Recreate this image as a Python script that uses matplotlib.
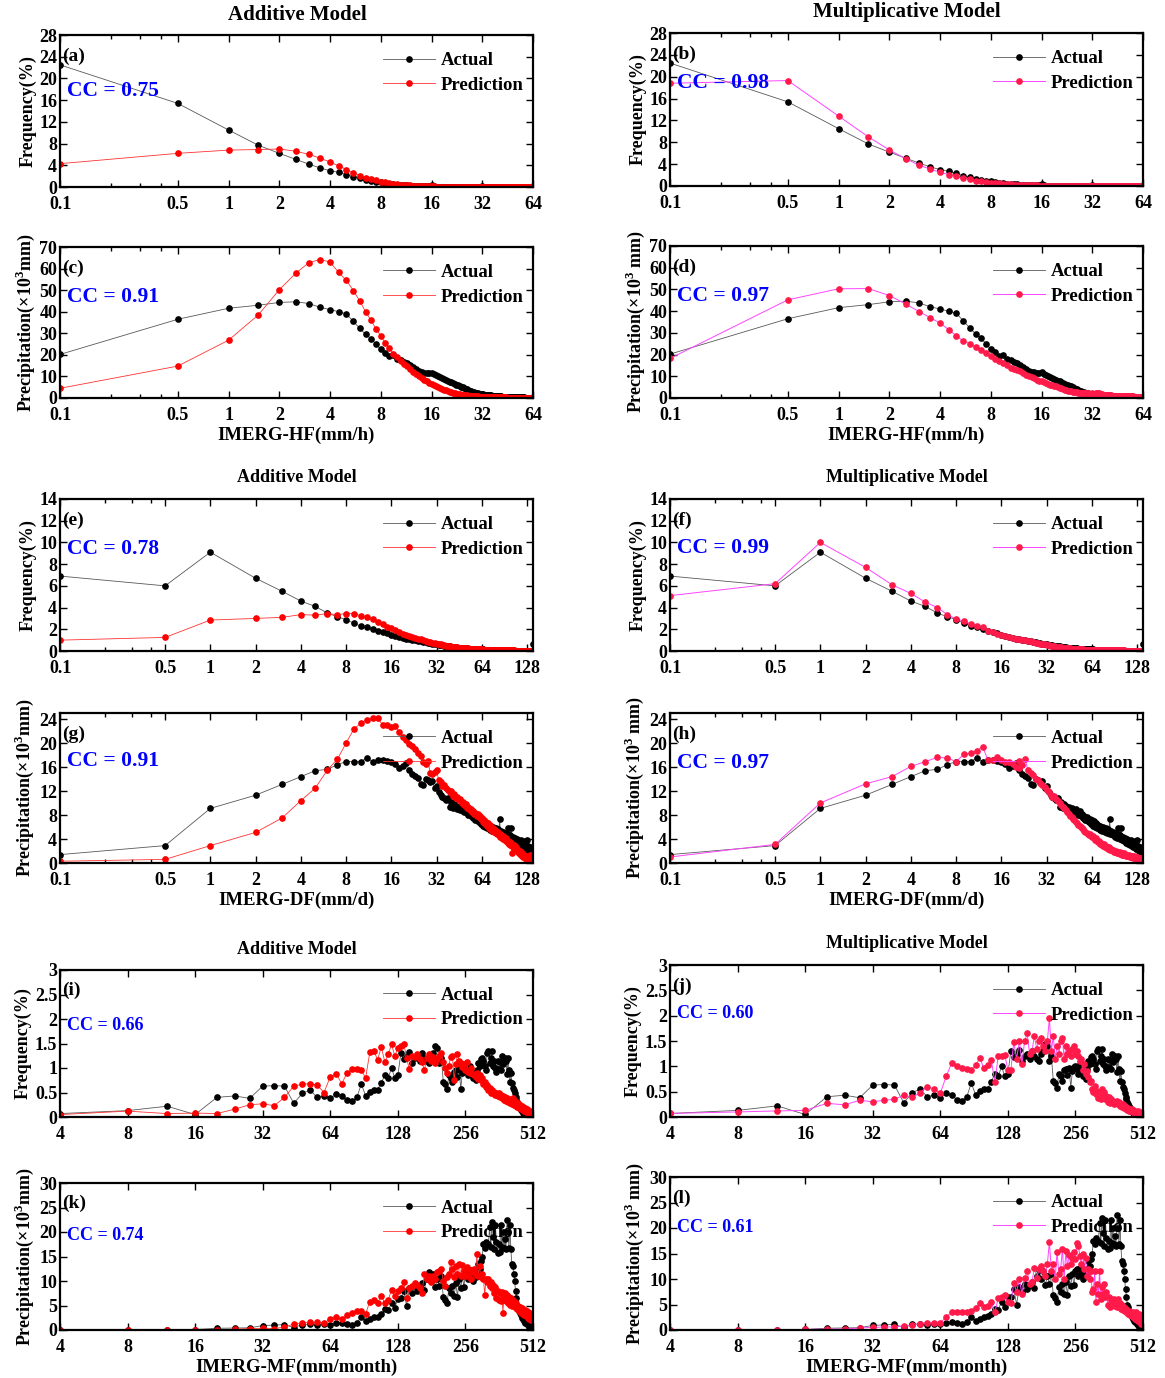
import numpy as np
import matplotlib
matplotlib.use('Agg')
import matplotlib.pyplot as plt
from matplotlib.ticker import FixedLocator, NullFormatter, NullLocator

plt.rcParams['font.family'] = 'Liberation Serif'
plt.rcParams['font.weight'] = 'bold'
plt.rcParams['axes.labelweight'] = 'bold'
plt.rcParams['mathtext.fontset'] = 'custom'
plt.rcParams['mathtext.rm'] = 'Liberation Serif:bold'
plt.rcParams['mathtext.bf'] = 'Liberation Serif:bold'

# ---- bins ----
hourly_x = [0.1] + list(np.arange(0.5, 64.01, 0.5))
daily_x = [0.1, 0.5] + list(range(1, 141))
monthly_x = list(range(4, 513, 4))

# ---- hourly frequency (%) ----
h_freq_act = [22.5,
    15.4, 10.5, 7.7, 6.2, 5.1, 4.2, 3.5, 3.0, 2.7, 2.3, 1.9, 1.6, 1.35, 1.15, 0.95, 0.85,
    0.7, 0.6, 0.52, 0.45, 0.4, 0.35, 0.3, 0.27, 0.24, 0.21, 0.19, 0.17, 0.15, 0.13, 0.12, 0.45,
    0.1, 0.09, 0.08, 0.08, 0.07, 0.06, 0.06, 0.05, 0.05, 0.05, 0.04, 0.04, 0.04, 0.03, 0.03, 0.08,
    0.03, 0.03, 0.03, 0.02, 0.02, 0.02, 0.02, 0.02, 0.02, 0.02, 0.02, 0.02, 0.01, 0.01, 0.01, 0.15,
    0.01, 0.01, 0.01, 0.01, 0.01, 0.01, 0.01, 0.01, 0.01, 0.01, 0.01, 0.01, 0.01, 0.01, 0.01, 0.03,
    0.01, 0.01, 0.01, 0.01, 0.01, 0.01, 0.01, 0.01, 0.01, 0.01, 0.01, 0.01, 0.01, 0.01, 0.01, 0.02,
    0.01, 0.01, 0.01, 0.01, 0.01, 0.01, 0.01, 0.01, 0.01, 0.01, 0.01, 0.01, 0.01, 0.01, 0.01, 0.02,
    0.01, 0.01, 0.01, 0.01, 0.01, 0.01, 0.01, 0.01, 0.01, 0.01, 0.01, 0.01, 0.01, 0.01, 0.01, 0.15]
h_freq_add = [4.3,
    6.2, 6.8, 6.9, 7.0, 6.6, 6.0, 5.3, 4.6, 3.9, 3.2, 2.6, 2.1, 1.75, 1.45, 1.2, 1.0,
    0.85, 0.72, 0.62, 0.53, 0.46, 0.4, 0.35, 0.3, 0.26, 0.23, 0.2, 0.18, 0.16, 0.14, 0.12, 0.11,
    0.1, 0.09, 0.08, 0.07, 0.06, 0.06, 0.05, 0.05, 0.04, 0.04, 0.04, 0.03, 0.03, 0.03, 0.03, 0.02,
    0.02, 0.02, 0.02, 0.02, 0.02, 0.02, 0.02, 0.02, 0.02, 0.02, 0.02, 0.02, 0.02, 0.02, 0.02, 0.02,
    0.02, 0.02, 0.02, 0.02, 0.01, 0.01, 0.01, 0.01, 0.01, 0.01, 0.01, 0.01, 0.01, 0.01, 0.01, 0.01,
    0.01, 0.01, 0.01, 0.01, 0.01, 0.01, 0.01, 0.01, 0.01, 0.01, 0.01, 0.01, 0.01, 0.01, 0.01, 0.01,
    0.01, 0.01, 0.01, 0.01, 0.01, 0.01, 0.01, 0.01, 0.01, 0.01, 0.01, 0.01, 0.01, 0.01, 0.01, 0.01,
    0.01, 0.01, 0.01, 0.01, 0.01, 0.01, 0.01, 0.01, 0.01, 0.01, 0.01, 0.01, 0.01, 0.01, 0.01, 0.05]
h_freq_mul = [18.8,
    19.3, 12.8, 9.0, 6.6, 5.0, 3.8, 3.1, 2.5, 2.1, 1.75, 1.45, 1.2, 1.0, 0.85, 0.72, 0.62,
    0.53, 0.46, 0.4, 0.35, 0.3, 0.26, 0.23, 0.2, 0.18, 0.16, 0.14, 0.12, 0.11, 0.1, 0.09, 0.08,
    0.07, 0.07, 0.06, 0.06, 0.05, 0.05, 0.05, 0.04, 0.04, 0.04, 0.04, 0.03, 0.03, 0.03, 0.03, 0.03,
    0.03, 0.02, 0.02, 0.02, 0.02, 0.02, 0.02, 0.02, 0.02, 0.02, 0.02, 0.02, 0.02, 0.02, 0.02, 0.02,
    0.02, 0.02, 0.02, 0.02, 0.02, 0.02, 0.01, 0.01, 0.01, 0.01, 0.01, 0.01, 0.01, 0.01, 0.01, 0.01,
    0.01, 0.01, 0.01, 0.01, 0.01, 0.01, 0.01, 0.01, 0.01, 0.01, 0.01, 0.01, 0.01, 0.01, 0.01, 0.01,
    0.01, 0.01, 0.01, 0.01, 0.01, 0.01, 0.01, 0.01, 0.01, 0.01, 0.01, 0.01, 0.01, 0.01, 0.01, 0.01,
    0.01, 0.01, 0.01, 0.01, 0.01, 0.01, 0.01, 0.01, 0.01, 0.01, 0.01, 0.01, 0.01, 0.01, 0.01, 0.03]

# ---- hourly precipitation (x10^3 mm) ----
h_prec_act = [20.2,
    36.5, 41.6, 43.0, 44.3, 44.6, 43.8, 42.0, 41.0, 40.0, 39.0, 35.5, 32.3, 29.5, 27.5, 25.0, 22.5,
    21.0, 19.5, 19.8, 18.0, 17.5, 16.8, 16.0, 15.2, 14.5, 13.5, 12.5, 12.0, 11.8, 11.5, 11.5, 11.8,
    11.0, 10.6, 10.2, 9.8, 9.3, 8.9, 8.5, 8.0, 7.6, 7.2, 6.9, 6.6, 6.2, 5.9, 5.5, 5.3,
    5.0, 4.6, 4.3, 4.0, 3.7, 3.4, 3.1, 2.9, 2.7, 2.5, 2.3, 2.2, 2.0, 1.9, 1.8, 2.0,
    1.7, 1.6, 1.5, 1.45, 1.4, 1.3, 1.25, 1.2, 1.15, 1.1, 1.0, 0.95, 0.9, 0.85, 0.8, 0.85,
    0.75, 0.72, 0.7, 0.68, 0.65, 0.62, 0.6, 0.58, 0.55, 0.52, 0.5, 0.48, 0.46, 0.44, 0.42, 0.45,
    0.4, 0.38, 0.37, 0.36, 0.35, 0.34, 0.33, 0.32, 0.31, 0.3, 0.29, 0.28, 0.27, 0.26, 0.25, 0.27,
    0.24, 0.23, 0.22, 0.21, 0.2, 0.2, 0.19, 0.18, 0.17, 0.17, 0.16, 0.15, 0.15, 0.14, 0.13, 0.4]
h_prec_add = [4.5,
    14.8, 26.8, 38.5, 50.2, 57.8, 62.8, 64.2, 63.0, 58.2, 54.5, 49.8, 45.0, 40.0, 36.0, 32.0, 28.8,
    25.5, 23.0, 20.5, 19.0, 17.0, 15.8, 14.8, 13.5, 12.0, 11.0, 10.0, 9.2, 8.5, 7.8, 7.0, 6.5,
    6.0, 5.5, 5.0, 4.6, 4.2, 3.8, 3.5, 3.2, 2.9, 2.6, 2.4, 2.2, 2.0, 1.8, 1.7, 1.6,
    1.5, 1.4, 1.3, 1.2, 1.1, 1.0, 0.95, 0.9, 0.85, 0.8, 0.75, 0.7, 0.65, 0.6, 0.55, 0.5,
    0.48, 0.46, 0.44, 0.42, 0.4, 0.39, 0.38, 0.37, 0.36, 0.35, 0.34, 0.33, 0.32, 0.31, 0.3, 0.3,
    0.29, 0.28, 0.28, 0.27, 0.26, 0.26, 0.25, 0.24, 0.24, 0.23, 0.22, 0.22, 0.21, 0.21, 0.2, 0.2,
    0.19, 0.19, 0.18, 0.18, 0.17, 0.17, 0.16, 0.16, 0.15, 0.15, 0.14, 0.14, 0.13, 0.13, 0.12, 0.12,
    0.11, 0.11, 0.1, 0.1, 0.09, 0.09, 0.08, 0.08, 0.07, 0.07, 0.06, 0.06, 0.06, 0.05, 0.05, 0.05]
h_prec_mul = [18.2,
    45.2, 50.3, 50.4, 47.2, 43.3, 39.8, 37.0, 34.5, 31.5, 28.6, 26.2, 25.0, 23.5, 22.0, 20.5, 19.2,
    18.0, 17.0, 16.0, 15.2, 14.0, 13.5, 13.0, 12.3, 11.5, 10.8, 10.2, 9.6, 9.0, 8.5, 8.0, 7.6,
    7.2, 6.8, 6.5, 6.2, 5.9, 5.6, 5.3, 5.0, 4.7, 4.4, 4.1, 3.9, 3.6, 3.4, 3.2, 3.0,
    2.9, 2.8, 2.7, 2.6, 2.5, 2.4, 2.3, 2.3, 2.2, 2.2, 2.1, 2.1, 2.0, 2.0, 2.0, 2.1,
    2.0, 2.0, 2.1, 2.2, 2.3, 2.2, 2.0, 1.8, 1.7, 1.6, 1.5, 1.5, 1.4, 1.4, 1.3, 1.3,
    1.25, 1.2, 1.2, 1.15, 1.15, 1.1, 1.1, 1.05, 1.05, 1.0, 1.0, 1.0, 0.95, 0.95, 0.9, 0.9,
    0.9, 0.88, 0.86, 0.85, 0.84, 0.82, 0.8, 0.8, 0.78, 0.76, 0.75, 0.74, 0.72, 0.7, 0.7, 0.68,
    0.66, 0.65, 0.64, 0.62, 0.6, 0.6, 0.58, 0.56, 0.55, 0.54, 0.52, 0.5, 0.5, 0.48, 0.46, 0.5]

# ---- daily frequency (%) ----
d_freq_act = [6.9, 6.0,
    9.1, 6.7, 5.5, 4.6, 4.1, 3.5, 3.15, 2.9, 2.55, 2.3, 2.2, 2.0, 1.85, 1.75, 1.65, 1.5, 1.4, 1.3, 1.2, 1.15,
    1.1, 1.05, 1.0, 0.95, 0.9, 0.85, 0.8, 0.75, 0.72, 0.68, 0.65, 0.62, 0.58, 0.55, 0.52, 0.5, 0.47, 0.45, 0.42, 0.4,
    0.38, 0.36, 0.34, 0.32, 0.3, 0.29, 0.28, 0.27, 0.26, 0.25, 0.24, 0.23, 0.22, 0.21, 0.2, 0.19, 0.18, 0.18, 0.17, 0.16,
    0.16, 0.15, 0.15, 0.14, 0.14, 0.13, 0.13, 0.12, 0.12, 0.11, 0.11, 0.1, 0.1, 0.1, 0.09, 0.09, 0.09, 0.08, 0.08, 0.08,
    0.08, 0.07, 0.07, 0.07, 0.07, 0.07, 0.06, 0.06, 0.06, 0.06, 0.06, 0.06, 0.06, 0.05, 0.05, 0.05, 0.05, 0.05, 0.05, 0.05,
    0.05, 0.05, 0.04, 0.04, 0.04, 0.04, 0.04, 0.04, 0.04, 0.04, 0.04, 0.04, 0.03, 0.03, 0.03, 0.03, 0.03, 0.03, 0.03, 0.03,
    0.03, 0.03, 0.03, 0.03, 0.03, 0.03, 0.03, 0.03, 0.03, 0.03, 0.03, 0.03, 0.03, 0.03, 0.03, 0.03, 0.03, 0.03, 0.03, 0.6]
d_freq_add = [1.0, 1.25,
    2.85, 3.0, 3.1, 3.35, 3.3, 3.45, 3.35, 3.45, 3.45, 3.25, 3.1, 2.95, 2.7, 2.45, 2.25, 2.1, 1.95, 1.75, 1.6, 1.5,
    1.4, 1.3, 1.22, 1.15, 1.08, 1.0, 0.93, 0.87, 0.82, 0.77, 0.72, 0.68, 0.64, 0.6, 0.56, 0.53, 0.5, 0.47, 0.44, 0.41,
    0.39, 0.37, 0.35, 0.33, 0.31, 0.3, 0.29, 0.28, 0.27, 0.26, 0.25, 0.24, 0.23, 0.22, 0.21, 0.2, 0.19, 0.18, 0.17, 0.16,
    0.15, 0.15, 0.14, 0.14, 0.13, 0.13, 0.12, 0.12, 0.11, 0.11, 0.1, 0.1, 0.1, 0.09, 0.09, 0.09, 0.08, 0.08, 0.08, 0.08,
    0.07, 0.07, 0.07, 0.07, 0.07, 0.06, 0.06, 0.06, 0.06, 0.06, 0.06, 0.06, 0.06, 0.05, 0.05, 0.05, 0.05, 0.05, 0.05, 0.05,
    0.05, 0.05, 0.05, 0.05, 0.05, 0.04, 0.04, 0.04, 0.04, 0.04, 0.04, 0.04, 0.04, 0.04, 0.04, 0.03, 0.03, 0.03, 0.03, 0.03,
    0.03, 0.03, 0.03, 0.03, 0.03, 0.03, 0.03, 0.03, 0.03, 0.03, 0.02, 0.02, 0.02, 0.02, 0.02, 0.02, 0.02, 0.02, 0.02, 0.02]
d_freq_mul = [5.1, 6.2,
    10.0, 7.7, 6.1, 5.3, 4.5, 4.0, 3.35, 2.95, 2.75, 2.5, 2.3, 2.2, 1.85, 1.75, 1.6, 1.5, 1.4, 1.3, 1.2, 1.15,
    1.1, 1.05, 1.0, 0.93, 0.88, 0.82, 0.77, 0.72, 0.68, 0.64, 0.6, 0.56, 0.52, 0.49, 0.46, 0.43, 0.4, 0.38, 0.36, 0.34,
    0.32, 0.3, 0.28, 0.27, 0.25, 0.24, 0.23, 0.21, 0.2, 0.19, 0.18, 0.17, 0.16, 0.15, 0.14, 0.14, 0.13, 0.12, 0.12, 0.11,
    0.11, 0.1, 0.1, 0.1, 0.09, 0.09, 0.09, 0.08, 0.08, 0.08, 0.08, 0.07, 0.07, 0.07, 0.07, 0.07, 0.06, 0.06, 0.06, 0.06,
    0.06, 0.06, 0.06, 0.06, 0.06, 0.05, 0.05, 0.05, 0.05, 0.05, 0.05, 0.05, 0.05, 0.05, 0.05, 0.05, 0.05, 0.05, 0.05, 0.05,
    0.05, 0.05, 0.05, 0.05, 0.05, 0.04, 0.04, 0.04, 0.04, 0.04, 0.04, 0.04, 0.04, 0.04, 0.04, 0.04, 0.04, 0.04, 0.04, 0.04,
    0.04, 0.04, 0.04, 0.04, 0.04, 0.03, 0.03, 0.03, 0.03, 0.03, 0.03, 0.03, 0.03, 0.03, 0.03, 0.03, 0.03, 0.03, 0.03, 0.03]

# ---- daily precipitation (x10^3 mm) ----
d_prec_act = [1.4, 2.9,
    9.1, 11.3, 13.1, 14.4, 15.4, 15.6, 16.4, 16.9, 16.9, 16.9, 17.5, 16.9, 17.2, 17.2, 17.0, 16.8, 16.5, 15.8, 16.2, 16.7,
    15.5, 14.8, 14.5, 14.2, 13.2, 13.0, 14.0, 13.8, 13.5, 13.6, 12.5, 12.8, 11.8, 11.4, 11.0, 10.8, 10.5, 10.8, 9.3, 10.2,
    9.2, 9.8, 9.5, 9.0, 9.4, 8.8, 9.2, 8.6, 8.5, 9.0, 8.3, 8.0, 8.6, 7.8, 8.2, 7.5, 7.9, 7.2, 7.6, 7.0,
    6.8, 7.4, 6.5, 7.2, 6.2, 7.0, 6.0, 6.6, 5.8, 6.4, 6.0, 5.5, 6.2, 5.8, 5.4, 6.0, 5.6, 5.2, 5.8, 5.5,
    5.0, 5.6, 5.2, 7.4, 4.8, 5.4, 5.0, 4.6, 5.2, 4.8, 4.4, 5.0, 4.6, 4.2, 4.8, 5.8, 4.4, 4.0, 4.6, 5.8,
    4.2, 3.8, 4.4, 4.0, 3.6, 4.2, 3.8, 3.4, 4.0, 3.6, 3.2, 3.8, 3.4, 3.0, 3.6, 3.2, 3.8, 2.8, 3.4, 3.0,
    2.6, 3.2, 2.8, 3.6, 2.4, 3.0, 2.6, 3.8, 2.2, 2.8, 2.4, 2.0, 2.6, 2.2, 1.8, 2.4, 2.0, 1.6, 2.2, 2.6]
d_prec_add = [0.3, 0.6,
    2.9, 5.1, 7.5, 10.4, 12.5, 15.5, 17.3, 20.0, 22.3, 23.3, 23.9, 24.1, 24.1, 23.0, 23.0, 22.6, 22.8, 21.8, 21.0, 20.5,
    19.8, 19.5, 19.0, 18.3, 17.8, 16.8, 16.5, 17.0, 15.0, 14.8, 15.2, 15.5, 13.8, 13.5, 12.8, 13.0, 12.5, 12.2, 11.8, 12.0,
    11.2, 11.5, 10.8, 11.0, 10.5, 10.6, 10.0, 10.2, 9.6, 9.8, 9.2, 9.4, 8.8, 9.0, 8.5, 8.7, 8.2, 8.4, 7.9, 8.1,
    7.6, 7.8, 7.3, 7.5, 6.8, 7.2, 6.5, 6.9, 6.2, 6.6, 5.9, 6.3, 5.6, 6.0, 5.4, 5.8, 5.2, 5.5, 5.0, 5.3,
    4.8, 5.1, 4.6, 4.9, 4.4, 4.7, 4.2, 4.5, 4.0, 4.3, 3.8, 4.1, 3.6, 3.9, 3.4, 3.7, 3.2, 3.5, 3.0, 3.3,
    2.9, 1.6, 2.7, 3.0, 2.5, 2.8, 2.3, 2.6, 2.1, 2.4, 1.9, 2.2, 1.7, 2.0, 1.5, 1.8, 1.3, 1.6, 1.1, 1.4,
    1.0, 1.3, 0.8, 1.2, 0.6, 1.0, 0.5, 1.2, 0.4, 0.9, 0.6, 1.1, 0.5, 1.3, 0.7, 1.0, 0.4, 1.2, 0.8, 1.5]
d_prec_mul = [1.0, 3.1,
    10.0, 13.2, 14.4, 16.1, 16.9, 17.6, 17.5, 16.9, 18.1, 18.3, 18.7, 19.4, 17.2, 17.1, 17.7, 17.2, 16.8, 16.8, 16.5, 16.0,
    15.8, 16.3, 17.3, 15.5, 15.0, 14.6, 14.0, 13.8, 13.4, 13.0, 12.6, 12.2, 11.8, 11.4, 11.0, 11.2, 10.6, 10.3, 10.0, 9.7,
    9.4, 9.1, 8.8, 8.5, 8.2, 7.9, 7.6, 7.4, 7.1, 6.9, 6.6, 6.4, 6.2, 6.0, 5.8, 5.6, 5.4, 5.2, 5.0, 4.9,
    4.7, 4.9, 4.5, 4.3, 4.5, 4.1, 3.9, 4.1, 3.7, 3.5, 3.7, 3.3, 3.2, 3.4, 3.0, 2.9, 3.1, 2.7, 2.6, 2.8,
    2.5, 2.4, 2.6, 2.3, 2.2, 2.4, 2.1, 2.0, 2.2, 1.9, 1.8, 2.0, 1.8, 1.7, 1.9, 1.6, 1.6, 1.8, 1.5, 1.5,
    1.7, 1.4, 1.4, 1.6, 1.3, 1.3, 1.5, 1.2, 1.2, 1.4, 1.1, 1.2, 1.3, 1.1, 1.0, 1.2, 1.0, 1.0, 1.1, 0.9,
    1.0, 1.1, 0.9, 0.9, 1.0, 0.8, 0.9, 1.0, 0.8, 0.8, 0.9, 0.7, 0.8, 0.9, 0.7, 0.7, 0.8, 0.6, 0.7, 0.5]

# ---- monthly frequency (%) ----
m_freq_act = [
    0.07, 0.13, 0.22, 0.05, 0.40, 0.43, 0.38, 0.63, 0.64, 0.63, 0.28, 0.48, 0.55, 0.40, 0.43, 0.38,
    0.47, 0.43, 0.34, 0.32, 0.40, 0.67, 0.43, 0.52, 0.56, 0.56, 0.70, 0.85, 0.80, 1.00, 0.80, 0.85,
    1.30, 1.18, 1.25, 1.33, 1.10, 1.20, 1.25, 1.15, 1.30, 1.20, 1.15, 1.10, 1.25, 1.30, 1.45, 1.40,
    1.10, 1.20, 0.72, 0.68, 0.58, 0.85, 0.80, 0.72, 0.92, 0.95, 0.82, 0.97, 0.58, 0.90, 0.98, 1.00,
    0.95, 0.85, 1.05, 0.92, 0.80, 0.88, 0.75, 0.95, 1.10, 1.05, 1.18, 1.20, 1.15, 1.05, 0.95, 1.30,
    1.35, 1.10, 1.20, 1.35, 1.05, 1.15, 1.00, 0.92, 1.15, 0.98, 1.12, 0.95, 1.25, 1.08, 1.15, 1.20,
    1.15, 0.88, 1.20, 0.95, 0.72, 0.90, 0.70, 0.60, 0.55, 0.48, 0.40, 0.35, 0.30, 0.25, 0.22, 0.18,
    0.15, 0.12, 0.10, 0.08, 0.06, 0.05, 0.08, 0.04, 0.03, 0.05, 0.02, 0.04, 0.02, 0.01, 0.03, 0.02]
m_freq_add = [
    0.05, 0.12, 0.07, 0.08, 0.07, 0.16, 0.25, 0.27, 0.23, 0.40, 0.63, 0.67, 0.68, 0.65, 0.50, 0.82,
    0.88, 0.68, 0.90, 0.97, 0.97, 0.95, 0.80, 1.32, 1.35, 1.17, 1.43, 1.12, 1.28, 1.48, 1.25, 1.40,
    1.45, 1.50, 1.20, 0.98, 1.25, 1.22, 1.28, 1.18, 1.12, 0.95, 1.20, 1.28, 1.15, 1.22, 1.10, 1.18,
    1.25, 1.30, 1.12, 1.00, 0.90, 1.05, 1.22, 1.25, 0.75, 1.08, 1.28, 1.15, 1.10, 1.02, 1.08, 0.95,
    1.12, 0.92, 0.90, 1.00, 0.88, 0.85, 0.82, 0.90, 0.78, 0.85, 0.75, 0.80, 0.68, 0.72, 0.62, 0.65,
    0.55, 0.60, 0.50, 0.55, 0.48, 0.52, 0.45, 0.50, 0.42, 0.48, 0.40, 0.45, 0.38, 0.42, 0.35, 0.40,
    0.33, 0.38, 0.30, 0.36, 0.28, 0.34, 0.26, 0.38, 0.25, 0.32, 0.22, 0.30, 0.20, 0.28, 0.18, 0.25,
    0.16, 0.22, 0.14, 0.20, 0.12, 0.18, 0.10, 0.16, 0.08, 0.14, 0.06, 0.12, 0.05, 0.10, 0.04, 0.08]
m_freq_mul = [
    0.07, 0.10, 0.12, 0.13, 0.27, 0.24, 0.33, 0.30, 0.33, 0.35, 0.43, 0.39, 0.48, 0.60, 0.55, 0.47,
    0.80, 1.07, 1.00, 0.96, 0.95, 0.93, 1.02, 1.17, 0.96, 1.02, 1.12, 0.70, 1.20, 1.20, 1.23, 0.93,
    0.92, 1.48, 1.15, 1.50, 1.05, 1.50, 1.65, 1.25, 1.30, 1.60, 1.35, 1.50, 1.55, 1.40, 1.30, 1.50,
    1.95, 1.30, 1.60, 1.15, 1.40, 1.25, 1.50, 1.55, 1.15, 1.40, 1.25, 1.30, 1.20, 1.35, 1.40, 1.25,
    1.30, 1.20, 1.10, 1.15, 0.92, 1.05, 0.85, 0.90, 0.78, 0.70, 0.72, 0.55, 0.50, 0.62, 0.45, 0.52,
    0.38, 0.48, 0.35, 0.55, 0.40, 0.50, 0.35, 0.42, 0.30, 0.40, 0.28, 0.35, 0.30, 0.32, 0.25, 0.30,
    0.28, 0.32, 0.25, 0.30, 0.22, 0.26, 0.20, 0.25, 0.18, 0.22, 0.15, 0.20, 0.14, 0.18, 0.12, 0.16,
    0.12, 0.15, 0.10, 0.13, 0.08, 0.12, 0.07, 0.10, 0.06, 0.12, 0.05, 0.10, 0.06, 0.08, 0.05, 0.07]

# ---- monthly precipitation (x10^3 mm) ----
m_prec_act = [
    0.05, 0.05, 0.05, 0.1, 0.35, 0.4, 0.45, 0.9, 1.0, 1.1, 0.5, 1.1, 1.2, 1.0, 1.2, 1.1,
    1.4, 1.5, 1.3, 1.1, 1.5, 2.6, 1.8, 2.2, 2.6, 2.7, 3.2, 4.2, 4.0, 5.5, 4.5, 6.4,
    6.5, 8.0, 5.0, 8.5, 7.5, 9.0, 8.0, 8.8, 9.5, 8.2, 10.5, 11.8, 10.0, 11.5, 8.8, 10.5,
    9.0, 11.0, 6.8, 6.2, 5.5, 8.5, 7.5, 9.0, 7.0, 9.5, 6.8, 10.5, 8.6, 11.0, 8.8, 11.5,
    12.0, 10.5, 12.2, 11.0, 10.0, 11.5, 10.8, 12.0, 13.5, 12.5, 14.0, 15.0, 17.5, 16.8, 18.0, 17.5,
    17.5, 21.0, 17.0, 22.0, 19.0, 16.5, 21.5, 18.0, 15.8, 17.5, 16.0, 21.5, 17.0, 20.0, 16.8, 18.5,
    16.5, 22.5, 20.0, 16.8, 21.5, 16.5, 13.5, 13.0, 11.5, 10.0, 8.0, 6.5, 5.0, 4.5, 3.8, 3.5,
    3.0, 2.5, 2.2, 3.0, 1.8, 1.5, 2.2, 1.2, 1.0, 1.8, 0.6, 1.2, 0.4, 0.8, 0.3, 0.5]
m_prec_add = [
    0.05, 0.05, 0.1, 0.1, 0.1, 0.15, 0.3, 0.35, 0.3, 0.6, 1.2, 1.4, 1.6, 1.6, 1.4, 2.3,
    2.6, 2.2, 3.0, 3.5, 3.8, 3.8, 3.3, 5.8, 6.2, 5.6, 7.0, 5.5, 6.2, 8.2, 7.0, 8.0,
    8.5, 9.7, 6.5, 8.5, 9.0, 9.5, 9.2, 8.5, 7.5, 11.5, 10.5, 11.0, 9.8, 11.0, 10.5, 11.8,
    12.0, 12.5, 10.0, 9.0, 10.8, 11.5, 13.8, 12.5, 10.8, 13.0, 11.5, 13.5, 11.0, 13.3, 12.0, 11.0,
    12.8, 11.0, 12.2, 10.5, 11.8, 12.5, 11.2, 15.5, 11.0, 13.0, 10.8, 11.5, 10.5, 7.2, 10.5, 9.8,
    10.5, 9.0, 9.8, 8.5, 9.2, 7.5, 8.8, 6.5, 8.0, 6.2, 7.5, 6.0, 7.8, 3.5, 6.8, 7.5,
    6.0, 7.2, 5.5, 6.8, 5.2, 6.5, 5.0, 6.2, 4.8, 5.8, 4.5, 5.5, 4.2, 5.0, 3.8, 4.6,
    3.5, 4.4, 3.2, 4.2, 3.0, 4.0, 2.8, 3.8, 2.5, 3.6, 2.2, 3.4, 2.0, 3.0, 2.2, 2.6]
m_prec_mul = [
    0.05, 0.05, 0.05, 0.1, 0.2, 0.2, 0.4, 0.5, 0.6, 0.6, 0.8, 0.9, 1.2, 1.4, 1.4, 1.4,
    2.6, 3.5, 3.5, 3.5, 3.6, 3.8, 4.4, 5.2, 4.5, 4.8, 5.4, 3.5, 6.2, 6.5, 6.8, 5.5,
    5.2, 9.2, 7.5, 10.0, 7.0, 10.2, 11.5, 9.0, 9.5, 12.2, 10.2, 12.0, 12.5, 11.5, 10.5, 13.0,
    17.3, 11.5, 13.0, 10.0, 15.3, 11.0, 12.0, 15.8, 10.0, 15.5, 12.5, 14.8, 13.0, 14.2, 15.2, 14.0,
    17.0, 16.5, 14.5, 13.0, 15.0, 12.0, 14.2, 10.5, 12.0, 10.0, 11.5, 7.5, 8.0, 11.5, 5.5, 9.0,
    7.0, 11.5, 6.0, 8.5, 7.0, 9.0, 6.5, 7.5, 5.0, 6.5, 4.5, 6.0, 5.5, 5.0, 6.0, 4.8,
    5.5, 4.5, 6.0, 4.8, 5.2, 4.2, 5.0, 4.0, 4.5, 3.8, 4.2, 3.5, 4.0, 3.2, 3.8, 3.0,
    3.4, 2.8, 3.6, 2.5, 3.0, 2.2, 3.5, 2.0, 2.8, 1.8, 3.2, 1.5, 2.5, 1.2, 2.0, 2.0]

cc_values = ['0.75', '0.98', '0.91', '0.97', '0.78', '0.99',
             '0.91', '0.97', '0.66', '0.60', '0.74', '0.61']
panel_tags = ['(a)', '(b)', '(c)', '(d)', '(e)', '(f)',
              '(g)', '(h)', '(i)', '(j)', '(k)', '(l)']

h_ticks = [0.1, 0.5, 1, 2, 4, 8, 16, 32, 64]
h_ticklabels = ['0.1', '0.5', '1', '2', '4', '8', '16', '32', '64']
d_ticks = [0.1, 0.5, 1, 2, 4, 8, 16, 32, 64, 128]
d_ticklabels = ['0.1', '0.5', '1', '2', '4', '8', '16', '32', '64', '128']
m_ticks = [4, 8, 16, 32, 64, 128, 256, 512]
m_ticklabels = ['4', '8', '16', '32', '64', '128', '256', '512']

W, H = 1165, 1378
fig = plt.figure(figsize=(W / 100, H / 100), dpi=100)


def box(x0, y0, x1, y1):
    return fig.add_axes([x0 / W, 1 - y1 / H, (x1 - x0) / W, (y1 - y0) / H])


def panel(ax, x, act, pred, multi, idx, xlim, ticks, ticklabels, ylim, ystep,
          yfmt, ylabel, xlabel=None, cc_y=0.65, cc_size=15.5, minor=True):
    ax.plot(x, act, '-', color='0.35', lw=0.6, marker='o', ms=3.8,
            mfc='k', mec='k', label='Actual')
    if multi:
        ax.plot(x, pred, '-', color='#ff44ff', lw=0.7, marker='o', ms=3.8,
                mfc='#ff1a4a', mec='#ff1a4a', label='Prediction')
    else:
        ax.plot(x, pred, '-', color='#ff3333', lw=0.6, marker='o', ms=3.8,
                mfc='#ff0000', mec='#ff0000', label='Prediction')
    ax.set_xscale('log')
    ax.set_xlim(*xlim)
    ax.set_xticks(ticks)
    ax.set_xticklabels(ticklabels, fontweight='bold', fontsize=13)
    if minor:
        ax.xaxis.set_minor_locator(FixedLocator([0.2, 0.3, 0.4]))
    else:
        ax.xaxis.set_minor_locator(NullLocator())
    ax.xaxis.set_minor_formatter(NullFormatter())
    yt = np.arange(0, ylim[1] + 1e-9, ystep)
    ax.set_ylim(*ylim)
    ax.set_yticks(yt)
    ax.set_yticklabels([yfmt(v) for v in yt], fontweight='bold', fontsize=13)
    ax.tick_params(which='both', direction='in', top=True, right=True, width=1)
    ax.tick_params(axis='x', which='both', pad=6.5)
    ax.tick_params(axis='y', which='both', pad=2)
    ax.tick_params(which='major', length=5)
    ax.tick_params(which='minor', length=3)
    for s in ax.spines.values():
        s.set_linewidth(1.6)
    ax.set_ylabel(ylabel, fontsize=13, fontweight='bold', labelpad=2)
    if xlabel:
        ax.set_xlabel(xlabel, fontsize=13.5, fontweight='bold', labelpad=2)
    ax.text(0.004, 0.86, panel_tags[idx], transform=ax.transAxes,
            fontsize=14, fontweight='bold', va='center', ha='left')
    ax.text(0.015, cc_y, 'CC = ' + cc_values[idx], transform=ax.transAxes,
            fontsize=cc_size, fontweight='bold', color='#0000ff', va='center', ha='left')
    ax.legend(loc='upper right', bbox_to_anchor=(1.0, 0.95), frameon=False,
              handlelength=2.8, handletextpad=0.3, labelspacing=0.4,
              borderaxespad=0.2, borderpad=0.3,
              prop={'weight': 'bold', 'size': 13.5})


def fmt_int(v):
    return '%d' % round(v)


def fmt_half(v):
    return '%g' % v


prec_l = 'Precipitation(×10$^{\\mathrm{3}}$mm)'
prec_r = 'Precipitation(×10$^{\\mathrm{3}}$ mm)'

# row 1 - hourly frequency
ax = box(60, 35, 533, 187)
panel(ax, hourly_x, h_freq_act, h_freq_add, False, 0, (0.1, 64), h_ticks, h_ticklabels,
      (0, 28), 4, fmt_int, 'Frequency(%)', cc_y=0.63)
ax = box(670, 33, 1143, 186)
panel(ax, hourly_x, h_freq_act, h_freq_mul, True, 1, (0.1, 64), h_ticks, h_ticklabels,
      (0, 28), 4, fmt_int, 'Frequency(%)', cc_y=0.67)
# row 2 - hourly precipitation
ax = box(60, 247, 533, 398)
panel(ax, hourly_x, h_prec_act, h_prec_add, False, 2, (0.1, 64), h_ticks, h_ticklabels,
      (0, 70), 10, fmt_int, prec_l, xlabel='IMERG-HF(mm/h)', cc_y=0.67)
ax = box(670, 246, 1143, 398)
panel(ax, hourly_x, h_prec_act, h_prec_mul, True, 3, (0.1, 64), h_ticks, h_ticklabels,
      (0, 70), 10, fmt_int, prec_r, xlabel='IMERG-HF(mm/h)', cc_y=0.67)
# row 3 - daily frequency
ax = box(60, 499, 533, 651)
panel(ax, daily_x, d_freq_act, d_freq_add, False, 4, (0.1, 140), d_ticks, d_ticklabels,
      (0, 14), 2, fmt_int, 'Frequency(%)', cc_y=0.67)
ax = box(670, 499, 1143, 651)
panel(ax, daily_x, d_freq_act, d_freq_mul, True, 5, (0.1, 140), d_ticks, d_ticklabels,
      (0, 14), 2, fmt_int, 'Frequency(%)', cc_y=0.68)
# row 4 - daily precipitation
ax = box(60, 713, 533, 863)
panel(ax, daily_x, d_prec_act, d_prec_add, False, 6, (0.1, 140), d_ticks, d_ticklabels,
      (0, 25), 4, fmt_int, prec_l, xlabel='IMERG-DF(mm/d)', cc_y=0.68)
ax = box(670, 713, 1143, 863)
panel(ax, daily_x, d_prec_act, d_prec_mul, True, 7, (0.1, 140), d_ticks, d_ticklabels,
      (0, 25), 4, fmt_int, prec_r, xlabel='IMERG-DF(mm/d)', cc_y=0.67)
# row 5 - monthly frequency
ax = box(60, 970, 533, 1117)
panel(ax, monthly_x, m_freq_act, m_freq_add, False, 8, (4, 512), m_ticks, m_ticklabels,
      (0, 3), 0.5, fmt_half, 'Frequency(%)', cc_y=0.62, cc_size=13, minor=False)
ax = box(670, 965, 1143, 1117)
panel(ax, monthly_x, m_freq_act, m_freq_mul, True, 9, (4, 512), m_ticks, m_ticklabels,
      (0, 3), 0.5, fmt_half, 'Frequency(%)', cc_y=0.68, cc_size=13, minor=False)
# row 6 - monthly precipitation
ax = box(60, 1183, 533, 1330)
panel(ax, monthly_x, m_prec_act, m_prec_add, False, 10, (4, 512), m_ticks, m_ticklabels,
      (0, 30), 5, fmt_int, prec_l, xlabel='IMERG-MF(mm/month)', cc_y=0.64, cc_size=13,
      minor=False)
ax = box(670, 1177, 1143, 1330)
panel(ax, monthly_x, m_prec_act, m_prec_mul, True, 11, (4, 512), m_ticks, m_ticklabels,
      (0, 30), 5, fmt_int, prec_r, xlabel='IMERG-MF(mm/month)', cc_y=0.67, cc_size=13,
      minor=False)

# section titles
for (px, py, txt, fs) in [(297, 15, 'Additive Model', 15), (907, 12, 'Multiplicative Model', 15),
                          (297, 478, 'Additive Model', 13), (907, 478, 'Multiplicative Model', 13),
                          (297, 950, 'Additive Model', 13), (907, 943, 'Multiplicative Model', 13)]:
    fig.text(px / W, 1 - py / H, txt, ha='center', va='center', fontsize=fs,
             fontweight='bold')

fig.savefig('out.png', dpi=100)
